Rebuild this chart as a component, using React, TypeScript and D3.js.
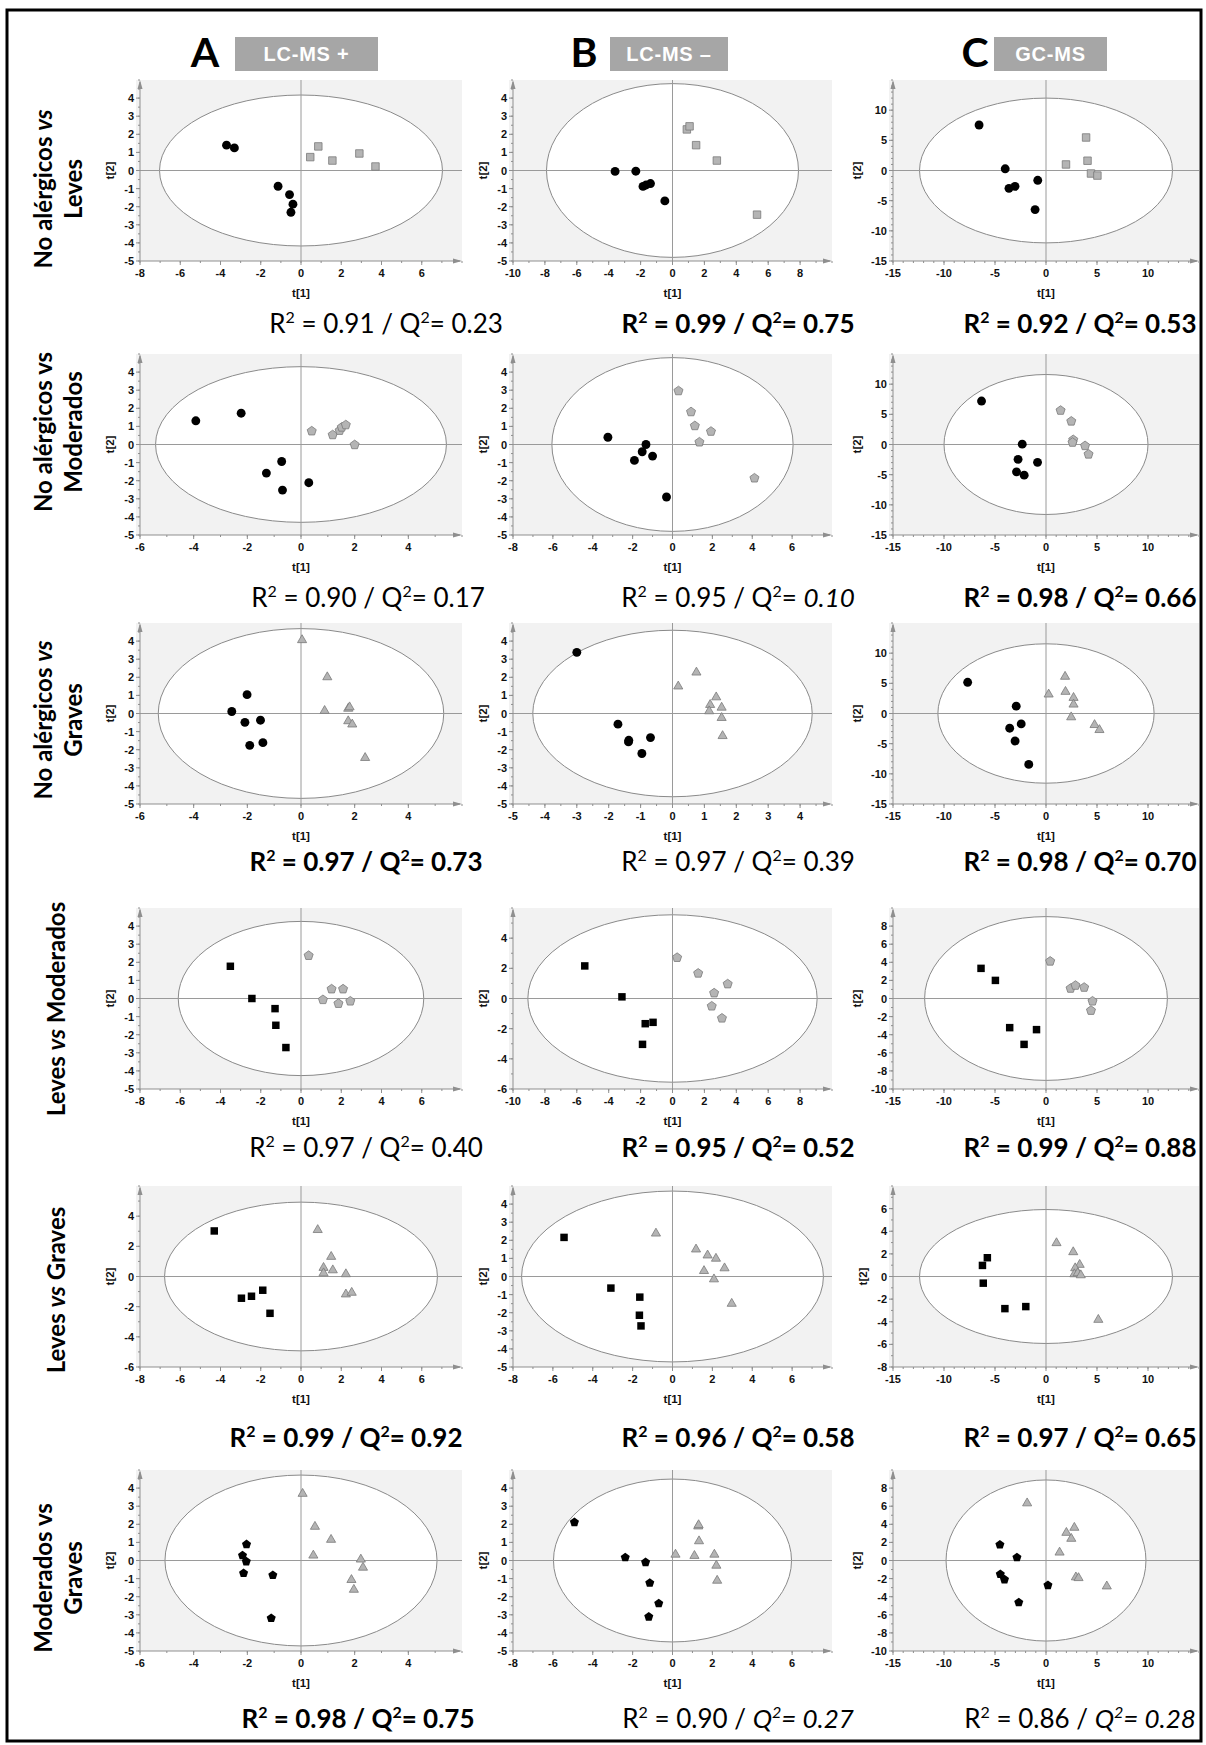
import React from "react";
import * as d3 from "d3";

const W = 1206;
const H = 1745;

// layout of the plot grid
const colX = [140, 513, 893];
const colW = [322, 319, 306];
const rowY = [80, 354, 623, 908, 1186, 1470];
const PLOT_H = 181;

// headers
const colLetters = ["A", "B", "C"];
const colLetterX = [205, 584, 975];
const colTags = ["LC-MS +", "LC-MS \u2013", "GC-MS"];
const tagBoxX = [235, 610, 994];
const tagBoxW = [143, 118, 113];

// row titles: lines of [text, italic] segments
const rowTitles = [
  [[["No alérgicos ", false], ["vs", true]], [["Leves", false]]],
  [[["No alérgicos vs", false]], [["Moderados", false]]],
  [[["No alérgicos ", false], ["vs", true]], [["Graves", false]]],
  [[["Leves ", false], ["vs", true], [" Moderados", false]]],
  [[["Leves ", false], ["vs", true], [" Graves", false]]],
  [[["Moderados vs", false]], [["Graves", false]]],
];
const rowTitleY = [189, 432, 720, 1009, 1290, 1578];

// axis limits (symmetric) and tick steps, per row then per column
const xLim = [[8, 10, 15], [6, 8, 15], [6, 5, 15], [8, 10, 15], [8, 8, 15], [6, 8, 15]];
const xStep = [[2, 2, 5], [2, 2, 5], [2, 1, 5], [2, 2, 5], [2, 2, 5], [2, 2, 5]];
const yLim = [[5, 5, 15], [5, 5, 15], [5, 5, 15], [5, 6, 10], [6, 5, 8], [5, 5, 10]];
const yStep = [[1, 1, 5], [1, 1, 5], [1, 1, 5], [1, 2, 2], [2, 1, 2], [1, 1, 2]];

// Hotelling ellipse radii
const ellRx = [[7.03, 7.9, 12.4], [5.42, 6.05, 10.0], [5.32, 4.38, 10.6], [6.1, 9.07, 11.9], [6.78, 7.57, 12.4], [5.07, 5.97, 9.8]];
const ellRy = [[4.17, 4.8, 12.0], [4.3, 4.8, 11.6], [4.69, 4.6, 11.55], [4.26, 5.55, 9.05], [4.93, 4.72, 5.92], [4.72, 4.5, 8.9]];

// marker shapes per row: first group is black, second gray
const shapeA = ["circle", "circle", "circle", "square", "square", "pentagon"];
const shapeB = ["square", "pentagon", "triangle", "pentagon", "triangle", "triangle"];

// scores [t1, t2]
const r1aBlack = [[-3.7, 1.4], [-3.31, 1.25], [-1.14, -0.87], [-0.57, -1.33], [-0.4, -1.86], [-0.5, -2.31]];
const r1aGray = [[0.46, 0.74], [0.86, 1.33], [1.56, 0.55], [2.9, 0.94], [3.7, 0.22]];
const r1bBlack = [[-3.6, -0.05], [-2.3, -0.04], [-1.85, -0.88], [-1.65, -0.8], [-1.38, -0.72], [-0.48, -1.68]];
const r1bGray = [[0.9, 2.27], [1.07, 2.44], [1.48, 1.4], [2.78, 0.55], [5.3, -2.44]];
const r1cBlack = [[-6.56, 7.54], [-4.0, 0.28], [-3.63, -2.96], [-3.04, -2.63], [-0.81, -1.62], [-1.07, -6.48]];
const r1cGray = [[1.96, 1.0], [3.93, 5.47], [4.07, 1.62], [4.41, -0.5], [5.04, -0.84]];

const r2aBlack = [[-3.92, 1.31], [-2.23, 1.73], [-0.72, -0.94], [-1.29, -1.58], [-0.69, -2.52], [0.29, -2.11]];
const r2aGray = [[0.4, 0.74], [1.18, 0.53], [1.44, 0.77], [1.52, 0.95], [1.67, 1.08], [2.0, -0.02]];
const r2bBlack = [[-3.24, 0.4], [-1.33, 0.0], [-1.52, -0.4], [-1.91, -0.88], [-1.0, -0.64], [-0.3, -2.9]];
const r2bGray = [[0.3, 2.96], [0.93, 1.8], [1.12, 1.03], [1.93, 0.72], [1.35, 0.13], [4.11, -1.86]];
const r2cBlack = [[-6.32, 7.2], [-2.33, 0.06], [-2.74, -2.46], [-0.83, -2.96], [-2.89, -4.53], [-2.14, -5.08]];
const r2cGray = [[1.43, 5.64], [2.48, 3.85], [2.67, 0.78], [2.6, 0.34], [3.83, -0.22], [4.17, -1.62]];

const r3aBlack = [[-2.01, 1.04], [-2.58, 0.11], [-2.09, -0.49], [-1.51, -0.37], [-1.91, -1.76], [-1.42, -1.61]];
const r3aGray = [[0.04, 4.06], [0.98, 2.01], [0.88, 0.15], [1.76, 0.27], [1.81, 0.35], [1.76, -0.42], [1.91, -0.6], [2.39, -2.45]];
const r3bBlack = [[-3.0, 3.38], [-1.71, -0.59], [-1.37, -1.48], [-1.38, -1.57], [-0.69, -1.33], [-0.96, -2.21]];
const r3bGray = [[0.18, 1.5], [0.75, 2.27], [1.37, 0.9], [1.18, 0.48], [1.54, 0.33], [1.15, 0.13], [1.54, -0.24], [1.57, -1.24]];
const r3cBlack = [[-7.68, 5.17], [-2.92, 1.22], [-3.56, -2.44], [-2.43, -1.72], [-3.03, -4.56], [-1.69, -8.44]];
const r3cGray = [[0.26, 3.17], [1.87, 6.11], [1.91, 3.61], [2.7, 2.61], [2.7, 1.5], [2.47, -0.61], [4.76, -1.89], [5.24, -2.72]];

const r4aBlack = [[-3.51, 1.78], [-2.44, 0.0], [-1.29, -0.56], [-1.25, -1.48], [-0.75, -2.71]];
const r4aGray = [[0.38, 2.37], [1.52, 0.52], [2.09, 0.52], [1.09, -0.07], [1.86, -0.28], [2.45, -0.15]];
const r4bBlack = [[-5.5, 2.16], [-3.17, 0.11], [-1.71, -1.67], [-1.22, -1.58], [-1.88, -3.04]];
const r4bGray = [[0.29, 2.71], [1.61, 1.67], [2.61, 0.36], [3.46, 0.96], [2.46, -0.51], [3.1, -1.31]];
const r4cBlack = [[-6.37, 3.33], [-4.96, 2.0], [-3.56, -3.22], [-0.93, -3.44], [-2.15, -5.07]];
const r4cGray = [[0.41, 4.11], [2.41, 1.11], [2.89, 1.44], [3.74, 1.22], [4.56, -0.3], [4.41, -1.33]];

const r5aBlack = [[-4.31, 3.02], [-2.96, -1.44], [-2.46, -1.31], [-1.9, -0.91], [-1.54, -2.44]];
const r5aGray = [[0.83, 3.09], [1.5, 1.31], [1.12, 0.58], [1.12, 0.22], [1.58, 0.42], [2.23, 0.16], [2.23, -1.18], [2.52, -1.07]];
const r5bBlack = [[-5.44, 2.16], [-3.09, -0.64], [-1.64, -1.14], [-1.66, -2.14], [-1.58, -2.73]];
const r5bGray = [[-0.83, 2.38], [1.18, 1.5], [1.76, 1.17], [2.18, 0.99], [2.61, 0.46], [1.58, 0.31], [2.08, -0.15], [2.97, -1.5]];
const r5cBlack = [[-6.23, 0.98], [-5.75, 1.66], [-6.15, -0.59], [-4.03, -2.84], [-1.98, -2.66]];
const r5cGray = [[1.03, 2.96], [2.67, 2.16], [3.3, 1.04], [2.86, 0.74], [2.78, 0.21], [3.11, 0.3], [3.41, 0.12], [5.13, -3.82]];

const r6aBlack = [[-2.03, 0.89], [-2.18, 0.28], [-2.04, -0.06], [-2.14, -0.7], [-1.05, -0.81], [-1.11, -3.19]];
const r6aGray = [[0.06, 3.69], [0.52, 1.87], [1.12, 1.15], [0.46, 0.28], [2.23, 0.06], [2.31, -0.39], [1.88, -1.07], [1.97, -1.61]];
const r6bBlack = [[-4.92, 2.11], [-2.37, 0.17], [-1.35, -0.1], [-1.14, -1.24], [-0.69, -2.37], [-1.19, -3.11]];
const r6bGray = [[0.15, 0.33], [1.29, 1.89], [1.31, 1.96], [1.33, 1.07], [1.1, 0.26], [2.1, 0.33], [2.2, -0.28], [2.24, -1.11]];
const r6cBlack = [[-4.52, 1.74], [-2.85, 0.33], [-4.48, -1.52], [-4.07, -2.11], [0.19, -2.74], [-2.67, -4.63]];
const r6cGray = [[-1.85, 6.33], [2.78, 3.63], [2.0, 3.07], [2.48, 2.41], [1.33, 0.89], [2.93, -1.85], [3.19, -1.93], [5.96, -2.85]];

const blackSets = [
  [r1aBlack, r1bBlack, r1cBlack], [r2aBlack, r2bBlack, r2cBlack], [r3aBlack, r3bBlack, r3cBlack],
  [r4aBlack, r4bBlack, r4cBlack], [r5aBlack, r5bBlack, r5cBlack], [r6aBlack, r6bBlack, r6cBlack],
];
const graySets = [
  [r1aGray, r1bGray, r1cGray], [r2aGray, r2bGray, r2cGray], [r3aGray, r3bGray, r3cGray],
  [r4aGray, r4bGray, r4cGray], [r5aGray, r5bGray, r5cGray], [r6aGray, r6bGray, r6cGray],
];

// model quality
const r2Values = [["0.91", "0.99", "0.92"], ["0.90", "0.95", "0.98"], ["0.97", "0.97", "0.98"], ["0.97", "0.95", "0.99"], ["0.99", "0.96", "0.97"], ["0.98", "0.90", "0.86"]];
const q2Values = [["0.23", "0.75", "0.53"], ["0.17", "0.10", "0.66"], ["0.73", "0.39", "0.70"], ["0.40", "0.52", "0.88"], ["0.92", "0.58", "0.65"], ["0.75", "0.27", "0.28"]];
const fitBold = [[0, 1, 1], [0, 0, 1], [1, 0, 1], [0, 1, 1], [1, 1, 1], [1, 0, 0]];
// 0 upright, 1 value italic, 2 Q and value italic
const q2Italic = [[0, 0, 0], [0, 1, 0], [0, 0, 0], [0, 0, 0], [0, 0, 0], [0, 2, 2]];
const fitX = [[386, 738, 1080], [368, 738, 1080], [366, 738, 1080], [366, 738, 1080], [346, 738, 1080], [358, 738, 1080]];
const fitY = [323, 597, 861, 1147, 1437, 1718];

const symbolPentagon = {
  draw(ctx, size) {
    const r = Math.sqrt(size / (2.5 * Math.sin((2 * Math.PI) / 5)));
    for (let i = 0; i < 5; i++) {
      const a = -Math.PI / 2 + (i * 2 * Math.PI) / 5;
      if (i === 0) ctx.moveTo(r * Math.cos(a), r * Math.sin(a));
      else ctx.lineTo(r * Math.cos(a), r * Math.sin(a));
    }
    ctx.closePath();
  },
};

const symbolFor = {
  circle: d3.symbol().type(d3.symbolCircle).size(62)(),
  square: d3.symbol().type(d3.symbolSquare).size(56)(),
  pentagon: d3.symbol().type(symbolPentagon).size(54)(),
  triangle: d3.symbol().type(d3.symbolTriangle).size(36)(),
};

const AXIS = "#8f8f8f";
const TICK_FONT = "'Liberation Sans', Arial, sans-serif";
const TEXT_FONT = "Lato, 'Open Sans', sans-serif";

function Panel({ row, col }) {
  const x0 = colX[col];
  const w = colW[col];
  const y0 = rowY[row];
  const h = PLOT_H;
  const xl = xLim[row][col];
  const yl = yLim[row][col];
  const xs = xStep[row][col];
  const ys = yStep[row][col];

  const x = d3.scaleLinear().domain([-xl, xl]).range([x0, x0 + w]);
  const y = d3.scaleLinear().domain([-yl, yl]).range([y0 + h, y0]);

  const xTicks = d3.range(-xl, xl - xs / 2, xs);
  const yTicks = d3.range(-yl, yl - ys / 2, ys);
  const xMinorStep = xs === 5 ? 1 : xs / 2;
  const yMinorStep = ys === 5 ? 1 : ys / 2;
  const xMinor = d3.range(-xl, xl + 1e-9, xMinorStep);
  const yMinor = d3.range(-yl, yl + 1e-9, yMinorStep);

  const bottom = y0 + h;
  const right = x0 + w;
  const maxChars = d3.max(yTicks, (t) => String(t).length);
  const t2x = x0 - 18 - maxChars * 6;

  const black = blackSets[row][col];
  const gray = graySets[row][col];

  return (
    <g>
      <rect x={x0 - 4} y={y0} width={w + 4} height={h} fill="#f2f2f2" />
      <ellipse
        cx={x(0)}
        cy={y(0)}
        rx={x(ellRx[row][col]) - x(0)}
        ry={y(0) - y(ellRy[row][col])}
        fill="#ffffff"
        stroke="#8a8a8a"
        strokeWidth={1}
      />
      <line x1={x(0)} x2={x(0)} y1={y0} y2={bottom} stroke="#9a9a9a" strokeWidth={1} />
      <line x1={x0} x2={right} y1={y(0)} y2={y(0)} stroke="#9a9a9a" strokeWidth={1} />

      {/* axes */}
      <line x1={x0} x2={x0} y1={bottom} y2={y0 + 2} stroke={AXIS} strokeWidth={1} />
      <path d={`M${x0 - 2.5},${y0 + 9} L${x0},${y0} L${x0 + 2.5},${y0 + 9} Z`} fill={AXIS} />
      <line x1={x0} x2={right - 2} y1={bottom} y2={bottom} stroke={AXIS} strokeWidth={1} />
      <path d={`M${right - 9},${bottom - 2.5} L${right},${bottom} L${right - 9},${bottom + 2.5} Z`} fill={AXIS} />

      {xMinor.map((t, i) => (
        <line key={"xm" + i} x1={x(t)} x2={x(t)} y1={bottom} y2={bottom + 2} stroke={AXIS} />
      ))}
      {yMinor.map((t, i) => (
        <line key={"ym" + i} x1={x0 - 2} x2={x0} y1={y(t)} y2={y(t)} stroke={AXIS} />
      ))}
      {xTicks.map((t) => (
        <g key={"xt" + t}>
          <line x1={x(t)} x2={x(t)} y1={bottom} y2={bottom + 4} stroke={AXIS} />
          <text x={x(t)} y={bottom + 16} textAnchor="middle" fontFamily={TICK_FONT} fontWeight="bold" fontSize={11} fill="#111">
            {t}
          </text>
        </g>
      ))}
      {yTicks.map((t) => (
        <g key={"yt" + t}>
          <line x1={x0 - 4} x2={x0} y1={y(t)} y2={y(t)} stroke={AXIS} />
          <text x={x0 - 6} y={y(t) + 4} textAnchor="end" fontFamily={TICK_FONT} fontWeight="bold" fontSize={11} fill="#111">
            {t}
          </text>
        </g>
      ))}
      <text x={x(0)} y={bottom + 36} textAnchor="middle" fontFamily={TICK_FONT} fontWeight="bold" fontSize={11.5} fill="#111">
        t[1]
      </text>
      <text
        x={t2x}
        y={y0 + h / 2}
        transform={`rotate(-90, ${t2x}, ${y0 + h / 2})`}
        textAnchor="middle"
        dominantBaseline="central"
        fontFamily={TICK_FONT}
        fontWeight="bold"
        fontSize={11.5}
        fill="#111"
      >
        t[2]
      </text>

      {gray.map((d, i) => (
        <path
          key={"g" + i}
          d={symbolFor[shapeB[row]]}
          transform={`translate(${x(d[0])},${y(d[1])})`}
          fill="#b4b4b4"
          stroke="#7a7a7a"
          strokeWidth={0.8}
        />
      ))}
      {black.map((d, i) => (
        <path key={"b" + i} d={symbolFor[shapeA[row]]} transform={`translate(${x(d[0])},${y(d[1])})`} fill="#000" />
      ))}
    </g>
  );
}

function FitLabel({ row, col }) {
  const bold = fitBold[row][col] ? 700 : 400;
  const it = q2Italic[row][col];
  return (
    <text
      x={fitX[row][col]}
      y={fitY[row] + 10}
      textAnchor="middle"
      fontFamily={TEXT_FONT}
      fontWeight={bold}
      fontSize={26}
      fill="#000"
    >
      <tspan>R</tspan>
      <tspan fontSize={16} dy={-10}>2</tspan>
      <tspan dy={10}>{` = ${r2Values[row][col]} / `}</tspan>
      <tspan fontStyle={it === 2 ? "italic" : "normal"}>Q</tspan>
      <tspan fontSize={16} dy={-10} fontStyle={it === 2 ? "italic" : "normal"}>2</tspan>
      <tspan dy={10} fontStyle={it === 2 ? "italic" : "normal"}>{"= "}</tspan>
      <tspan fontStyle={it >= 1 ? "italic" : "normal"}>{q2Values[row][col]}</tspan>
    </text>
  );
}

function RowTitle({ row }) {
  const lines = rowTitles[row];
  const cy = rowTitleY[row];
  const xs = lines.length === 2 ? [42, 72] : [55];
  return (
    <g>
      {lines.map((segs, li) => (
        <text
          key={li}
          x={xs[li]}
          y={cy}
          transform={`rotate(-90, ${xs[li]}, ${cy})`}
          textAnchor="middle"
          dominantBaseline="central"
          fontFamily={TEXT_FONT}
          fontWeight="bold"
          fontSize={24}
          fill="#000"
        >
          {segs.map(([s, ital], si) => (
            <tspan key={si} fontStyle={ital ? "italic" : "normal"}>
              {s}
            </tspan>
          ))}
        </text>
      ))}
    </g>
  );
}

export default function App() {
  const rows = d3.range(6);
  const cols = d3.range(3);
  return (
    <svg width={W} height={H} viewBox={`0 0 ${W} ${H}`} style={{ position: "absolute", left: 0, top: 0, background: "#fff" }}>
      <rect x={0} y={0} width={W} height={H} fill="#fff" />
      <rect x={7} y={10} width={1194} height={1731} fill="none" stroke="#000" strokeWidth={3} />

      {cols.map((c) => (
        <g key={"h" + c}>
          <text x={colLetterX[c]} y={67} textAnchor="middle" fontFamily={TEXT_FONT} fontWeight="bold" fontSize={41} fill="#000">
            {colLetters[c]}
          </text>
          <rect x={tagBoxX[c]} y={37} width={tagBoxW[c]} height={34} fill="#a6a6a6" />
          <text
            x={tagBoxX[c] + tagBoxW[c] / 2}
            y={61}
            textAnchor="middle"
            fontFamily={TICK_FONT}
            fontWeight="bold"
            fontSize={20}
            letterSpacing={0.8}
            fill="#fff"
          >
            {colTags[c]}
          </text>
        </g>
      ))}

      {rows.map((r) => (
        <RowTitle key={"rt" + r} row={r} />
      ))}

      {rows.map((r) =>
        cols.map((c) => (
          <g key={`p${r}-${c}`}>
            <Panel row={r} col={c} />
            <FitLabel row={r} col={c} />
          </g>
        ))
      )}
    </svg>
  );
}
